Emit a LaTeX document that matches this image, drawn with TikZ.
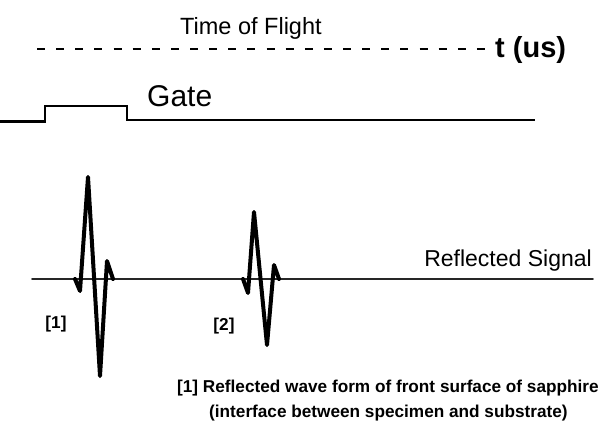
\documentclass[tikz,border=0pt]{standalone}
\usepackage{fontspec}
\setmainfont{Liberation Sans}
\usepackage{tikz}
\tikzset{
every picture/.style={line cap=round,line join=round},
axis dash/.style={
  draw=black,
  line width=2pt,
  line cap=butt,
  dash pattern=on 8pt off 11.13pt
},
gate line/.style={draw=black, line width=2.5pt, line join=miter, line cap=butt},
base line/.style={draw=black!85, line width=1.6pt},
pulse line/.style={draw=black, line width=4pt},
fig label/.style={inner sep=0pt, text=black},
note label/.style={fig label, font=\bfseries\fontsize{17.2}{20}\selectfont}
}

\begin{document}
\begin{tikzpicture}[x=1pt,y=-1pt]
\useasboundingbox (0,0) rectangle (604,420);
% time axis
\draw[axis dash] (37,49.5) -- (485,49.5);
\node[fig label, anchor=base west, font=\fontsize{23.5}{28}\selectfont] (tof) at (180,35) {Time of Flight};
\node[fig label, anchor=base west, font=\bfseries\fontsize{29}{34}\selectfont] (tunit) at (495,57) {t (us)};
% gate
\draw[gate line] (0,121.5) -- (45,121.5) -- (45,106) -- (127,106) -- (127,120) -- (535,120);
\node[fig label, anchor=base west, font=\fontsize{30}{36}\selectfont] (gate) at (147,106) {Gate};
% reflected signal
\draw[base line] (32,279) -- (593,279);
\node[fig label, anchor=base east, font=\fontsize{23}{28}\selectfont] (refl) at (592,266) {Reflected Signal};
\draw[pulse line] (75,279) -- (80,291) -- (88,177) -- (100,376) -- (107,261) -- (113,279);
\draw[pulse line] (243,279) -- (248,293) -- (254,212) -- (267,345) -- (274,265) -- (279,279);
\node[note label, anchor=base] (echo1) at (56,328) {[1]};
\node[note label, anchor=base] (echo2) at (224,330) {[2]};
% note
\node[note label, anchor=base west] (note1) at (177,392) {[1] Reflected wave form of front surface of sapphire};
\node[note label, anchor=base west] (note2) at (209,417) {(interface between specimen and substrate)};
\end{tikzpicture}
\end{document}
